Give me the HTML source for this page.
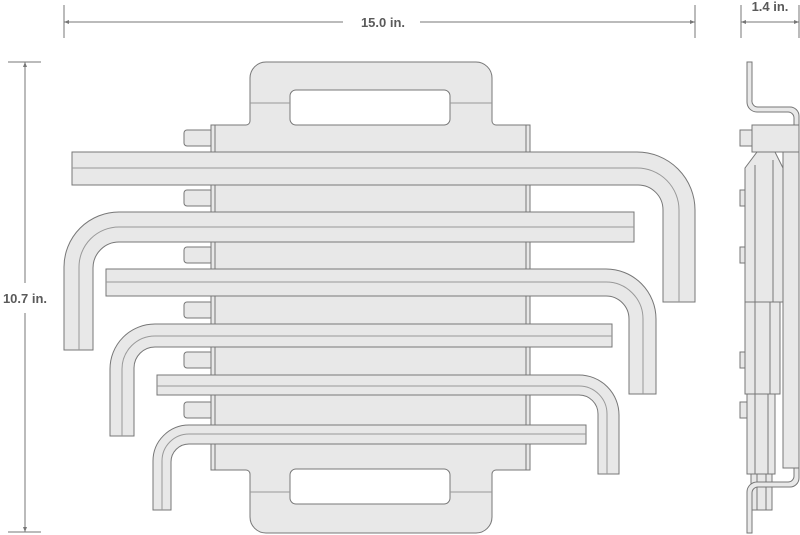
<!DOCTYPE html>
<html><head><meta charset="utf-8"><style>
html,body{margin:0;padding:0;background:#fff;}
svg{display:block;}
text{font-family:"Liberation Sans",sans-serif;font-weight:bold;fill:#5a5a5a;font-size:13px;}
</style></head><body>
<svg width="800" height="535" viewBox="0 0 800 535" xmlns="http://www.w3.org/2000/svg">
<g stroke="#777" stroke-width="1" fill="none">
<line x1="64" y1="5" x2="64" y2="38"/><line x1="695" y1="5" x2="695" y2="38"/>
<line x1="64" y1="22" x2="343" y2="22"/><line x1="420" y1="22" x2="695" y2="22"/>
<line x1="741" y1="5" x2="741" y2="38"/><line x1="799" y1="5" x2="799" y2="38"/>
<line x1="741" y1="22" x2="799" y2="22"/>
<line x1="8" y1="62" x2="41" y2="62"/><line x1="8" y1="532" x2="41" y2="532"/>
<line x1="25" y1="62" x2="25" y2="283"/><line x1="25" y1="313" x2="25" y2="532"/>
</g>
<g fill="#777">
<path d="M64,22 l5,-2 v4z"/><path d="M695,22 l-5,-2 v4z"/>
<path d="M741,22 l5,-2 v4z"/><path d="M799,22 l-5,-2 v4z"/>
<path d="M25,62 l-2,5 h4z"/><path d="M25,532 l-2,-5 h4z"/>
</g>
<text x="383" y="27" text-anchor="middle">15.0 in.</text>
<text x="770" y="11" text-anchor="middle">1.4 in.</text>
<text x="25" y="303" text-anchor="middle">10.7 in.</text>

<g stroke="#777" stroke-width="1" fill="#e8e8e8">
<rect x="184" y="130" width="29" height="16" rx="3"/>
<rect x="184" y="190" width="29" height="16" rx="3"/>
<rect x="184" y="247" width="29" height="16" rx="3"/>
<rect x="184" y="302" width="29" height="16" rx="3"/>
<rect x="184" y="352" width="29" height="16" rx="3"/>
<rect x="184" y="402" width="29" height="16" rx="3"/>
<path d="M211,125 H246 A4 4 0 0 0 250,121 V78 A16 16 0 0 1 266,62 H476 A16 16 0 0 1 492,78 V121 A4 4 0 0 0 496,125 H530 V470 H496 A4 4 0 0 0 492,474 V517 A16 16 0 0 1 476,533 H266 A16 16 0 0 1 250,517 V474 A4 4 0 0 0 246,470 H211 Z"/>
<rect x="290" y="90" width="160" height="35" rx="6" fill="#fff"/>
<rect x="290" y="469" width="160" height="35" rx="6" fill="#fff"/>
<line x1="250" y1="103" x2="290" y2="103" stroke="#999"/><line x1="450" y1="103" x2="492" y2="103" stroke="#999"/>
<line x1="250" y1="492" x2="290" y2="492" stroke="#999"/><line x1="450" y1="492" x2="492" y2="492" stroke="#999"/>
<line x1="215" y1="125" x2="215" y2="470"/><line x1="526" y1="125" x2="526" y2="470"/>

<path d="M72,152 H637 A58 58 0 0 1 695,210 V302 H663 V210 A25 25 0 0 0 638,185 H72 Z"/>
<path d="M72,168 H637 A42 42 0 0 1 679,210 V302" fill="none" stroke="#999"/>
<path d="M634,212 H119 A55 55 0 0 0 64,267 V350 H93 V268 A26 26 0 0 1 119,242 H634 Z"/>
<path d="M634,227 H119 A40 40 0 0 0 79,267 V350" fill="none" stroke="#999"/>
<path d="M106,269 H606 A50 50 0 0 1 656,319 V394 H629 V319 A23 23 0 0 0 606,296 H106 Z"/>
<path d="M106,282 H606 A37 37 0 0 1 643,319 V394" fill="none" stroke="#999"/>
<path d="M612,324 H155 A45 45 0 0 0 110,369 V436 H134 V368 A21 21 0 0 1 155,347 H612 Z"/>
<path d="M612,336 H155 A33 33 0 0 0 122,369 V436" fill="none" stroke="#999"/>
<path d="M157,375 H579 A40 40 0 0 1 619,415 V474 H598 V414 A19 19 0 0 0 579,395 H157 Z"/>
<path d="M157,386 H579 A28 28 0 0 1 607,414 V474" fill="none" stroke="#999"/>
<path d="M586,425 H189 A36 36 0 0 0 153,461 V510 H171 V462 A18 18 0 0 1 189,444 H586 Z"/>
<path d="M586,434 H189 A27 27 0 0 0 162,461 V510" fill="none" stroke="#999"/>

<path d="M747,62 H752 V100 A6 6 0 0 0 758,107 H790 A9 9 0 0 1 799,116 V125 H794 V118 A6 6 0 0 0 788,112 H757 A10 10 0 0 1 747,102 Z"/>
<rect x="783" y="150" width="16" height="318"/>
<rect x="740" y="130" width="12" height="16"/>
<rect x="740" y="190" width="8" height="16"/>
<rect x="740" y="247" width="8" height="16"/>
<rect x="740" y="352" width="8" height="16"/>
<rect x="740" y="402" width="8" height="16"/>
<rect x="752" y="125" width="47" height="27"/>
<path d="M757,152 H775 L783,168 V302 H745 V168 Z"/>
<line x1="755" y1="165" x2="755" y2="302"/><line x1="773" y1="160" x2="773" y2="302"/>
<rect x="745" y="302" width="35" height="92"/>
<line x1="755" y1="302" x2="755" y2="394"/><line x1="770" y1="302" x2="770" y2="394"/>
<rect x="747" y="394" width="28" height="80"/>
<line x1="755" y1="394" x2="755" y2="474"/><line x1="768" y1="394" x2="768" y2="474"/>
<rect x="751" y="474" width="21" height="36"/>
<line x1="757" y1="474" x2="757" y2="510"/><line x1="766" y1="474" x2="766" y2="510"/>
<path d="M747,533 V492 A10 10 0 0 1 757,482 H788 A6 6 0 0 0 794,476 V468 H799 V478 A9 9 0 0 1 790,487 H758 A6 6 0 0 0 752,493 V533 Z"/>
</g>
</svg>
</body></html>
